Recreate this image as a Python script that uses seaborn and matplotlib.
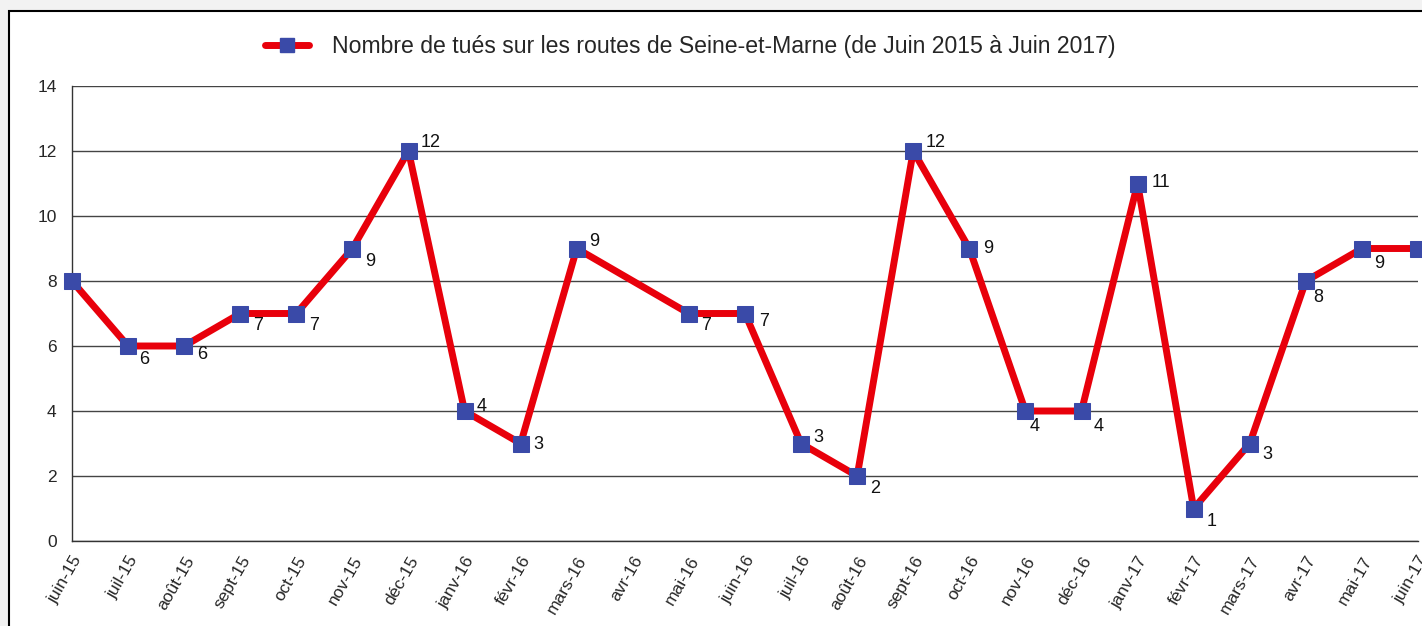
import numpy as np
import pandas as pd
import seaborn as sns
import matplotlib.pyplot as plt
from matplotlib.patches import Rectangle
from matplotlib.lines import Line2D

# Month labels (juin 2015 -> juin 2017)
months = ['juin-15', 'juil-15', 'août-15', 'sept-15', 'oct-15', 'nov-15', 'déc-15',
          'janv-16', 'févr-16', 'mars-16', 'avr-16', 'mai-16', 'juin-16', 'juil-16',
          'août-16', 'sept-16', 'oct-16', 'nov-16', 'déc-16', 'janv-17', 'févr-17',
          'mars-17', 'avr-17', 'mai-17', 'juin-17']
# avr-16 has no value in the source chart
killed = [8, 6, 6, 7, 7, 9, 12, 4, 3, 9, np.nan, 7, 7, 3, 2, 12, 9, 4, 4, 11, 1, 3, 8, 9, 9]
show_label = [False] + [True] * 24

# label offsets in points (dx, dy) around each marker
label_offsets = [(0, 0), (8, -10), (9, -6), (9, -9), (9, -9), (9, -9), (9, 6),
                 (9, 3), (9, -1), (9, 5), (0, 0), (9, -9), (10, -6), (9, 4),
                 (9, -9), (9, 6), (10, 0), (3, -11), (9, -11), (10, 1), (9, -9),
                 (9, -8), (5, -12), (9, -11), (9, -11)]

df = pd.DataFrame({'pos': range(len(months)), 'month': months, 'killed': killed})
plot_df = df.dropna()

sns.set_style('white')
plt.rcParams['font.family'] = ['Liberation Sans', 'DejaVu Sans']

fig = plt.figure(figsize=(14.22, 6.26), dpi=100)
fig.patch.set_facecolor('#f2f2f2')
frame = Rectangle((9 / 1422, -0.1), 1.1, 1 - 11 / 626 + 0.1,
                  transform=fig.transFigure, facecolor='white',
                  edgecolor='black', linewidth=1.5, zorder=-5)
fig.add_artist(frame)

ax = fig.add_axes([72 / 1422, 1 - 541 / 626, (1418 - 72) / 1422, (541 - 86) / 626])
ax.set_facecolor('none')

sns.lineplot(data=plot_df, x='pos', y='killed', ax=ax, color='#e8000b', linewidth=5,
             marker='s', markersize=12, markerfacecolor='#3a4aa8',
             markeredgecolor='#3a4aa8', clip_on=False, zorder=3)

for i, row in plot_df.iterrows():
    if not show_label[i]:
        continue
    dx, dy = label_offsets[i]
    ax.annotate(f"{int(row['killed'])}", (row['pos'], row['killed']),
                xytext=(dx, dy), textcoords='offset points',
                ha='left', va='center', fontsize=13, color='#111111', zorder=4)

ax.set_xlim(0, len(months) - 1)
ax.set_ylim(0, 14)
ax.set_yticks(range(0, 15, 2))
ax.set_xticks(range(len(months)))
ax.set_xticklabels(months, rotation=60, ha='right', rotation_mode='anchor', fontsize=12.5)
ax.tick_params(axis='y', labelsize=12.5, length=5, width=1, color='#333333', direction='out', pad=6)
ax.tick_params(axis='x', length=5, width=1, color='#333333', direction='out', pad=4)
ax.set_xlabel('')
ax.set_ylabel('')
ax.yaxis.grid(True, color='#444444', linewidth=1)
ax.set_axisbelow(True)
for side in ['top', 'right']:
    ax.spines[side].set_visible(False)
for side in ['left', 'bottom']:
    ax.spines[side].set_color('#333333')
    ax.spines[side].set_linewidth(1)

handle = Line2D([], [], color='#e8000b', linewidth=5, marker='s', markersize=10,
                markerfacecolor='#3a4aa8', markeredgecolor='#3a4aa8')
fig.legend([handle], ['Nombre de tués sur les routes de Seine-et-Marne (de Juin 2015 à Juin 2017)'],
           loc='center', bbox_to_anchor=(690 / 1422, 1 - 47 / 626), frameon=False,
           fontsize=16.6, handlelength=1.9, handletextpad=1.0)

fig.savefig('out.png', dpi=100, facecolor=fig.get_facecolor())
